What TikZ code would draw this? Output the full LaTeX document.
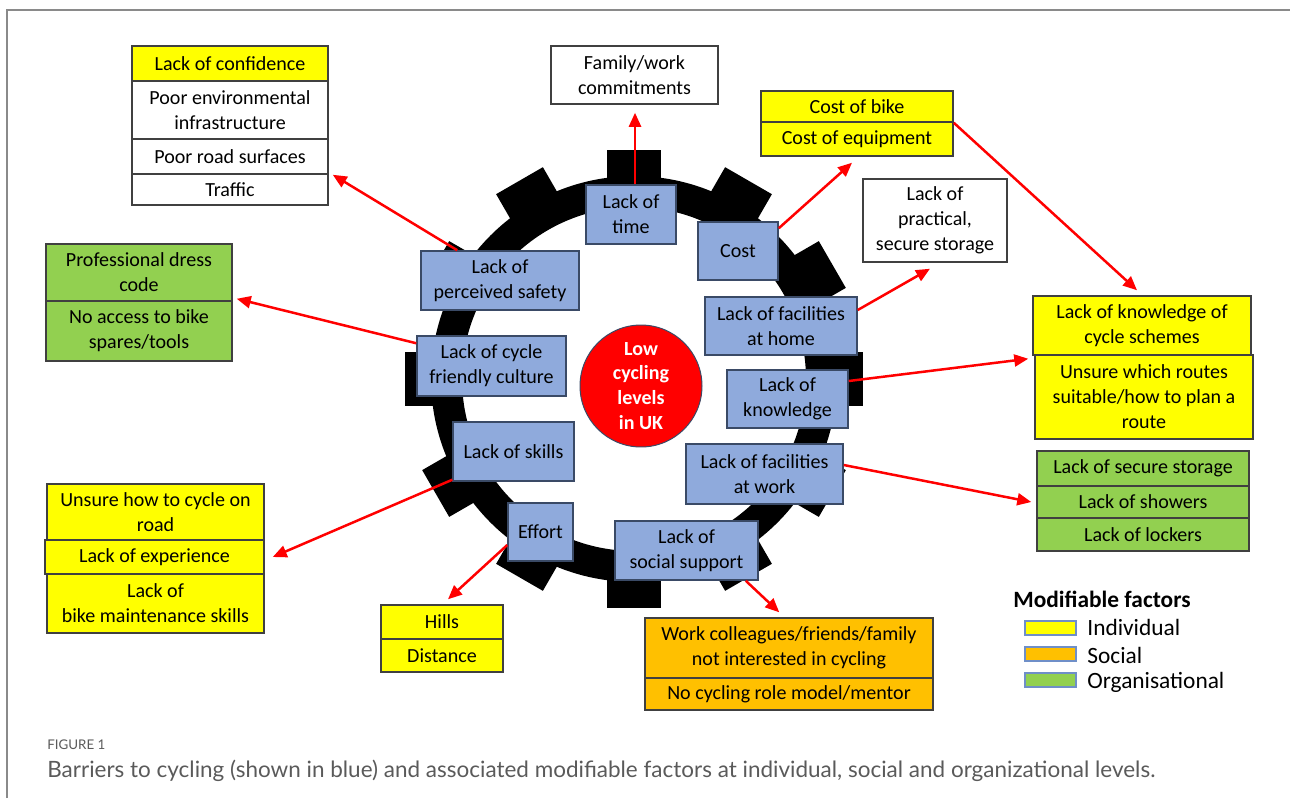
\documentclass[tikz,border=0pt]{standalone}
\usepackage{fontspec}
\setmainfont{Carlito}
\newfontfamily\capfont{Lato}
\usetikzlibrary{arrows.meta,calc}
\definecolor{bluefill}{HTML}{8FAADC}
\definecolor{blueline}{HTML}{3A4A66}
\definecolor{boxline}{HTML}{404040}
\definecolor{yelfill}{HTML}{FFFF00}
\definecolor{grnfill}{HTML}{92D050}
\definecolor{orafill}{HTML}{FFC000}
\definecolor{swline}{HTML}{6F8FC8}
\definecolor{capgray}{HTML}{5A5A5A}
\definecolor{framegray}{HTML}{8A8A8A}
\newcommand\bx[7]{\node[#2, minimum width={(#5-#3)*0.02cm}, minimum height={(#6-#4)*0.02cm}] (#1) at ({(#3+#5)/2},{(#4+#6)/2}) {#7};}
\begin{document}
\begin{tikzpicture}[x=0.02cm,y=-0.02cm,
  base/.style={draw=boxline, line width=0.03cm, inner sep=0pt, align=center,
    font=\fontsize{11.4}{14.2}\selectfont, text=black},
  barrier/.style={base, fill=bluefill, draw=blueline},
  yelbox/.style={base, fill=yelfill},
  grnbox/.style={base, fill=grnfill},
  orabox/.style={base, fill=orafill},
  whtbox/.style={base, fill=white},
  swatch/.style={draw=swline, line width=0.03cm, inner sep=0pt},
  legtext/.style={anchor=west, inner sep=0pt, font=\fontsize{13.3}{15}\selectfont},
  arr/.style={draw=red, line width=0.05cm, -{Triangle[length=0.28cm,width=0.24cm]}}
]
\useasboundingbox (0,0) rectangle (1290,798);
% frame
\draw[framegray, line width=0.04cm] (7,798) -- (7,10) -- (1290,10);

% gear
\fill[black, even odd rule] (634,379) circle (4.06cm) (634,379) circle (3.44cm);
\foreach \a in {0,30,...,330}
  \fill[black, rotate around={\a:(634,379)}] (822,352) rectangle (863,406);

% centre
\node[circle, fill=red, draw=blueline, line width=0.02cm, minimum size=2.44cm, inner sep=0pt,
  align=center, text=white, font=\bfseries\fontsize{11.4}{14.2}\selectfont] (low) at (641,386)
  {Low\\cycling\\levels\\in UK};

% barriers
\bx{time}{barrier}{586}{185}{676}{244}{Lack of\\time}
\bx{cost}{barrier}{698}{222}{778}{280}{Cost}
\bx{safe}{barrier}{421}{251}{579}{310}{Lack of\\perceived safety}
\bx{cult}{barrier}{417}{336}{566}{396}{Lack of cycle\\friendly culture}
\bx{home}{barrier}{705}{297}{857}{355}{Lack of facilities\\at home}
\bx{know}{barrier}{727}{370}{848}{428}{Lack of\\knowledge}
\bx{skill}{barrier}{453}{422}{574}{481}{Lack of skills}
\bx{eff}{barrier}{508}{503}{573}{561}{Effort}
\bx{soc}{barrier}{615}{521}{758}{580}{Lack of\\social support}
\bx{work}{barrier}{686}{444}{843}{504}{Lack of facilities\\at work}

% factor boxes
\bx{lt1}{yelbox}{132}{46}{328}{81}{Lack of confidence}
\bx{lt2}{whtbox}{132}{81}{328}{139}{Poor environmental\\infrastructure}
\bx{lt3}{whtbox}{132}{139}{328}{174}{Poor road surfaces}
\bx{lt4}{whtbox}{132}{174}{328}{205}{Traffic}

\bx{gr1}{grnbox}{46}{244}{232}{301}{Professional dress\\code}
\bx{gr2}{grnbox}{46}{301}{232}{361}{No access to bike\\spares/tools}

\bx{ly1}{yelbox}{47}{484}{264}{540}{Unsure how to cycle on\\road}
\bx{ly2}{yelbox}{45}{540}{264}{574}{Lack of experience}
\bx{ly3}{yelbox}{47}{574}{264}{633}{Lack of\\bike maintenance skills}

\bx{hl1}{yelbox}{381}{605}{503}{639}{Hills}
\bx{hl2}{yelbox}{381}{639}{503}{672}{Distance}

\bx{or1}{orabox}{645}{618}{933}{678}{Work colleagues/friends/family\\not interested in cycling}
\bx{or2}{orabox}{645}{678}{933}{710}{No cycling role model/mentor}

\bx{fam}{whtbox}{551}{46}{718}{104}{Family/work\\commitments}
\bx{cb1}{yelbox}{761}{91}{953}{122}{Cost of bike}
\bx{cb2}{yelbox}{761}{122}{953}{156}{Cost of equipment}
\bx{stor}{whtbox}{863}{179}{1007}{262}{Lack of\\practical,\\secure storage}

\bx{kn1}{yelbox}{1033}{296}{1251}{355}{Lack of knowledge of\\cycle schemes}
\bx{kn2}{yelbox}{1035}{355}{1253}{439}{Unsure which routes\\suitable/how to plan a\\route}

\bx{g1}{grnbox}{1037}{451}{1249}{486}{Lack of secure storage}
\bx{g2}{grnbox}{1037}{486}{1249}{518}{Lack of showers}
\bx{g3}{grnbox}{1037}{518}{1249}{551}{Lack of lockers}

% connectors
\draw[arr] ($(time.north)+(4,0)$) -- ($(time.north|-fam.south)+(4,8)$);
\draw[arr] ($(cost.north east)+(0,7)$) -- ($(cb2.south)+(-5,6)$);
\draw[arr] ($(home.east)+(0,-16)$) -- ($(stor.south)+(-5,6)$);
\draw[arr] (cb1.south east) -- ($(kn1.north)+(-5,-5)$);
\draw[arr] ($(know.east)+(0,-18)$) -- ($(kn1.south west)+(-4,3)$);
\draw[arr] ($(work.east)+(0,-9)$) -- ($(g2.west)+(-5,0)$);
\draw[arr] ($(soc.south east)+(-13,0)$) -- ($(or1.north west)+(135,-5)$);
\draw[arr] ($(eff.west)+(0,13)$) -- ($(hl1.north)+(6,-5)$);
\draw[arr] ($(skill.south west)+(0,-2)$) -- ($(ly2.east)+(8,0)$);
\draw[arr] ($(cult.north west)+(0,8)$) -- ($(gr1.south east)+(4,-3)$);
\draw[arr] ($(safe.north west)+(37,0)$) -- ($(lt3.south east)+(4,0)$);

% legend
\node[anchor=west, inner sep=0pt, font=\bfseries\fontsize{13.3}{15}\selectfont] (legt) at (1013,599) {Modifiable factors};
\node[swatch, fill=yelfill, minimum width=1.02cm, minimum height=0.28cm] (swy) at (1050.5,628) {};
\node[swatch, fill=orafill, minimum width=1.02cm, minimum height=0.28cm] (swo) at (1050.5,654) {};
\node[swatch, fill=grnfill, minimum width=1.02cm, minimum height=0.28cm] (swg) at (1050.5,680) {};
\node[legtext] (ly) at (1087,627) {Individual};
\node[legtext] (lo) at (1087,655) {Social};
\node[legtext] (lg) at (1087,682) {Organisational};

% caption
\node[anchor=west, inner sep=0pt, text=capgray, font=\capfont\fontsize{7.6}{9}\selectfont] (fig) at (47,745) {FIGURE 1};
\node[anchor=west, inner sep=0pt, text=capgray, font=\capfont\fontsize{12.8}{14}\selectfont] (cap) at (47,771) {Barriers to cycling (shown in blue) and associated modifiable factors at individual, social and organizational levels.};
\end{tikzpicture}
\end{document}
